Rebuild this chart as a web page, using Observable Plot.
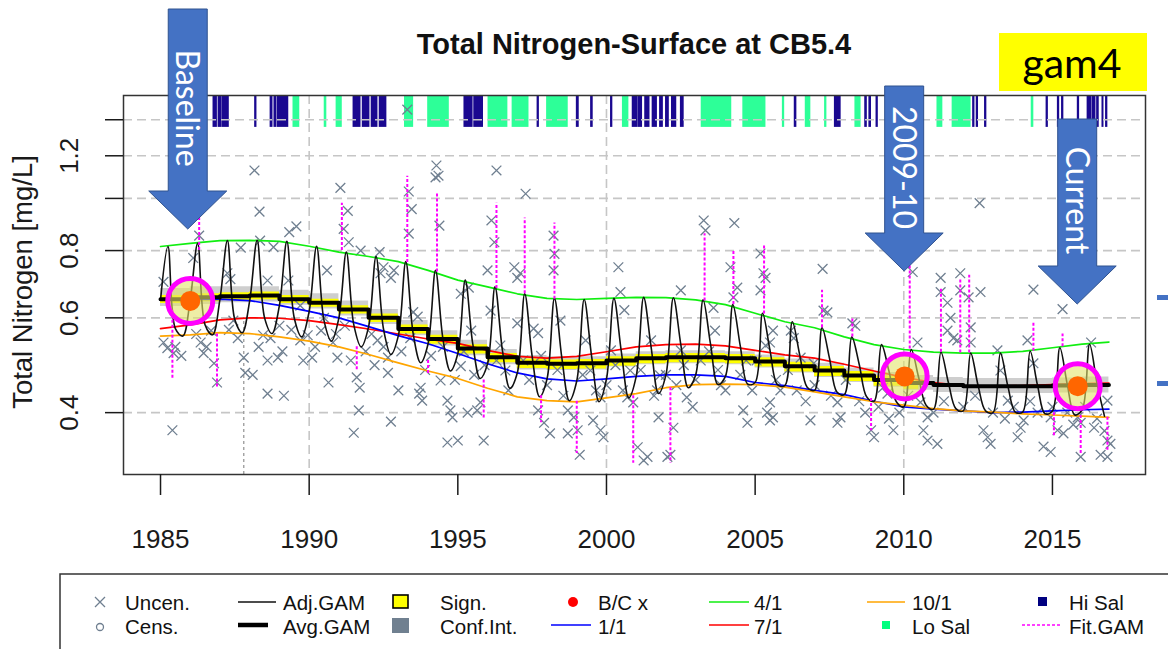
<!DOCTYPE html>
<html><head><meta charset="utf-8">
<script src="https://cdn.jsdelivr.net/npm/d3@7"></script>
<script src="https://cdn.jsdelivr.net/npm/@observablehq/plot@0.6"></script>
<style>
html,body{margin:0;padding:0;background:#fff;}
#chart{position:relative;width:1168px;height:649px;overflow:hidden;}
</style></head><body><div id="chart"></div>
<script>
// ---------------- DATA ----------------
const titleText = "Total Nitrogen-Surface at CB5.4";
const yTitle = "Total Nitrogen [mg/L]";
const xTicks = [1985, 1990, 1995, 2000, 2005, 2010, 2015];
const xGridTicks = [1990, 2000, 2010];
const yTicks = [0.4, 0.6, 0.8, 1.0, 1.2, 1.4];
const yLabelTicks = [0.4, 0.6, 0.8, 1.2];
const xDomain = [1983.755, 2018.13];
const yDomain = [0.307, 1.553];
const salStripLow = 1.355;
const baselineMarkT = 1987.8, baselineMarkTop = 0.60;

// seasonal model curves (value at each year)
const seasonT = [1985,1986,1987,1988,1989,1990,1991,1992,1993,1994,1995,1996,1997,1998,1999,2000,2001,2002,2003,2004,2005,2006,2007,2008,2009,2010,2011,2012,2013,2014,2015,2016,2016.9];
const green4 = [0.814,0.825,0.835,0.836,0.832,0.815,0.795,0.780,0.763,0.735,0.705,0.685,0.665,0.652,0.649,0.652,0.655,0.654,0.648,0.635,0.612,0.590,0.575,0.553,0.535,0.524,0.518,0.516,0.516,0.520,0.528,0.536,0.541];
const red7 = [0.573,0.582,0.595,0.600,0.599,0.593,0.583,0.572,0.560,0.548,0.538,0.522,0.509,0.505,0.509,0.519,0.530,0.535,0.536,0.532,0.522,0.512,0.505,0.492,0.478,0.465,0.455,0.449,0.448,0.449,0.451,0.453,0.454];
const blue1 = [0.647,0.649,0.650,0.646,0.633,0.617,0.600,0.578,0.556,0.537,0.515,0.493,0.474,0.462,0.458,0.462,0.467,0.470,0.470,0.467,0.455,0.449,0.440,0.432,0.420,0.410,0.406,0.403,0.400,0.401,0.403,0.405,0.406];
const orange10 = [0.555,0.558,0.563,0.561,0.553,0.543,0.530,0.513,0.495,0.478,0.463,0.444,0.428,0.421,0.419,0.426,0.434,0.445,0.451,0.452,0.451,0.446,0.437,0.428,0.419,0.413,0.407,0.403,0.401,0.398,0.396,0.394,0.392];
// annual average GAM and its bands
const avgGam = [0.650,0.655,0.658,0.660,0.650,0.640,0.622,0.600,0.572,0.548,0.526,0.507,0.495,0.493,0.494,0.500,0.505,0.507,0.507,0.505,0.498,0.488,0.479,0.469,0.460,0.454,0.450,0.448,0.448,0.448,0.449,0.450,0.450];
const ciHi = [0.680,0.685,0.685,0.685,0.675,0.665,0.645,0.622,0.593,0.568,0.545,0.524,0.511,0.508,0.508,0.514,0.519,0.521,0.521,0.519,0.512,0.503,0.494,0.484,0.475,0.469,0.465,0.463,0.463,0.463,0.464,0.466,0.466];
const ciLo = [0.630,0.635,0.640,0.642,0.633,0.623,0.605,0.583,0.556,0.532,0.510,0.491,0.480,0.479,0.480,0.486,0.491,0.493,0.493,0.491,0.484,0.474,0.465,0.455,0.446,0.440,0.436,0.434,0.434,0.434,0.435,0.435,0.435];
const sigT = [1985,1986,1987,1988,1989,1990,1991,1992,1993,1994,1995,1996,1997,1998,1999,2000,2001,2002,2003,2004,2005,2006,2007,2008,2009,2010,2010.5];
const sigHi = [0.660,0.665,0.668,0.670,0.660,0.650,0.632,0.610,0.582,0.557,0.535,0.515,0.503,0.501,0.502,0.508,0.513,0.515,0.515,0.513,0.506,0.496,0.487,0.477,0.468,0.462,0.462];
const sigLo = [0.638,0.643,0.646,0.648,0.638,0.628,0.610,0.588,0.560,0.536,0.514,0.495,0.483,0.481,0.482,0.488,0.493,0.495,0.495,0.493,0.486,0.476,0.467,0.457,0.448,0.442,0.442];

// uncensored observations
const obsT = [1985.10,1985.10,1985.23,1985.44,1985.40,1986.10,1986.30,1986.35,1986.45,1986.70,1986.80,1986.90,1987.25,1987.35,1987.45,1987.70,1987.80,1987.85,1988.10,1988.16,1988.33,1988.35,1988.45,1988.60,1988.60,1988.60,1988.80,1988.95,1989.00,1989.15,1989.30,1989.33,1989.57,1989.70,1989.70,1989.95,1990.10,1990.40,1990.60,1990.65,1990.80,1990.95,1991.05,1991.16,1991.30,1991.33,1991.50,1991.60,1991.67,1991.70,1991.73,1992.30,1992.37,1992.40,1992.50,1992.65,1992.65,1992.75,1992.50,1992.75,1992.85,1993.00,1993.30,1993.35,1993.45,1993.35,1993.50,1993.65,1993.70,1993.75,1993.80,1994.25,1994.28,1994.35,1994.38,1994.42,1994.65,1994.65,1994.75,1994.82,1995.00,1995.10,1995.10,1995.33,1995.37,1995.45,1995.65,1995.76,1995.87,1996.00,1996.10,1996.13,1996.23,1996.30,1996.43,1996.60,1996.90,1997.00,1997.00,1997.10,1997.28,1997.55,1997.70,1997.70,1997.80,1997.90,1998.10,1998.22,1998.25,1998.22,1998.45,1998.70,1998.70,1998.90,1999.03,1999.10,1999.30,1999.46,1999.55,1999.80,1999.80,1999.90,2000.15,2000.40,2000.47,2000.60,2000.70,2000.80,2000.90,2001.05,2001.25,2001.38,2001.50,2001.70,2001.75,2001.80,2002.05,2002.15,2002.25,2002.50,2002.50,2002.70,2002.90,2003.17,2003.27,2003.33,2003.60,2003.65,2003.85,2004.17,2004.27,2004.30,2004.40,2004.60,2004.70,2004.74,2005.18,2005.28,2005.18,2005.35,2005.40,2005.50,2005.35,2005.60,2005.50,2005.50,2005.60,2005.85,2006.20,2006.30,2006.53,2006.86,2006.97,2007.27,2007.30,2007.43,2007.77,2007.77,2007.87,2008.27,2008.37,2008.90,2009.00,2009.30,2009.45,2009.65,2010.30,2010.46,2010.56,2010.66,2010.80,2010.80,2011.13,2011.24,2011.24,2011.47,2011.47,2011.57,2011.67,2011.80,2011.90,2011.90,2012.18,2012.25,2012.25,2012.55,2012.58,2012.68,2012.82,2012.92,2013.15,2013.25,2013.50,2013.83,2013.93,2014.03,2014.16,2014.36,2014.36,2014.70,2014.94,2014.94,2015.17,2015.34,2015.37,2015.85,2015.95,2015.95,2016.30,2016.40,2016.62,2016.85,2016.85,2016.95,2016.85,
  1985.50,1985.70,1986.20,1986.55,1987.30,1987.60,1988.30,1988.70,1989.10,1989.40,1989.80,1990.20,1990.50,1990.90,1991.20,1991.40,1991.90,1992.10,1992.20,1993.10,1993.40,1993.90,1994.10,1994.50,1994.90,1995.20,1995.55,1995.90,1996.30,1996.70,1997.20,1997.40,1998.00,1998.35,1998.55,1999.20,1999.65,2000.00,2000.30,2000.55,2001.15,2001.60,2002.00,2002.35,2002.60,2003.00,2003.45,2003.75,2004.00,2004.50,2004.90,2005.05,2005.70,2006.10,2006.40,2006.70,2007.00,2007.55,2008.05,2008.50,2008.70,2009.15,2009.50,2009.85,2010.15,2011.00,2011.35,2012.00,2012.40,2013.00,2013.40,2013.70,2014.25,2014.50,2015.00,2015.50,2015.70,2016.10,2016.50,2016.75];
const obsV = [0.700,0.540,0.527,0.516,0.371,0.775,0.853,0.540,0.516,0.568,0.494,0.455,0.726,0.708,0.593,0.810,0.506,0.474,0.470,1.127,0.945,0.835,0.557,0.704,0.500,0.434,0.812,0.506,0.580,0.430,0.704,0.866,0.887,0.545,0.632,0.557,0.506,0.568,0.735,0.455,0.540,0.506,1.046,0.878,0.948,0.829,0.367,0.465,0.404,0.445,0.800,0.545,0.795,0.726,0.530,0.506,0.474,0.385,0.745,0.712,0.735,0.440,1.462,1.030,0.955,0.860,0.615,0.603,0.434,0.445,0.421,1.094,1.151,1.102,0.890,0.459,0.421,0.352,0.404,0.392,0.355,0.665,0.488,0.400,0.683,0.568,0.404,0.418,0.355,0.735,0.619,0.910,0.829,1.127,0.533,0.479,0.745,0.712,0.586,0.726,1.020,0.573,0.562,0.404,0.510,0.383,0.366,0.853,0.789,0.735,0.593,0.404,0.366,0.392,0.371,0.334,0.545,0.479,0.387,0.371,0.427,0.360,0.522,0.745,0.670,0.620,0.427,0.479,0.418,0.345,0.326,0.331,0.545,0.440,0.392,0.469,0.331,0.334,0.375,0.675,0.522,0.427,0.410,0.500,0.910,0.872,0.626,0.568,0.450,0.745,0.655,0.900,0.683,0.404,0.500,0.383,0.790,0.726,0.675,0.533,0.400,0.387,0.712,0.568,0.540,0.418,0.392,0.440,0.568,0.550,0.506,0.387,0.494,0.740,0.619,0.614,0.418,0.383,0.392,0.586,0.580,0.371,0.360,0.445,0.434,0.371,0.730,0.540,0.418,0.371,0.355,0.392,0.350,0.712,0.670,0.640,0.568,0.600,0.550,0.545,0.726,0.675,0.655,0.576,0.540,0.980,0.670,0.371,0.360,0.350,0.522,0.479,0.421,0.360,0.375,0.387,0.545,0.677,0.494,0.346,0.338,0.392,0.371,0.623,0.366,0.392,0.383,0.331,0.540,0.375,0.334,0.331,0.355,0.350,0.421,
  0.530,0.510,0.560,0.530,0.570,0.550,0.530,0.550,0.520,0.570,0.500,0.530,0.600,0.560,0.580,0.500,0.520,0.560,0.490,0.520,0.550,0.480,0.510,0.530,0.460,0.520,0.470,0.490,0.500,0.440,0.500,0.460,0.450,0.480,0.430,0.470,0.440,0.450,0.490,0.440,0.480,0.430,0.470,0.450,0.490,0.460,0.520,0.480,0.440,0.470,0.440,0.500,0.460,0.480,0.440,0.420,0.450,0.430,0.460,0.420,0.400,0.410,0.390,0.400,0.430,0.400,0.420,0.410,0.430,0.400,0.390,0.410,0.420,0.400,0.410,0.400,0.380,0.410,0.390,0.370];

// Fit.GAM spikes: time, from, to
const fitT  = [1986.30,1991.10,1993.30,1994.30,1996.30,1997.25,1998.25,2003.30,2004.27,2005.30,2007.25,2008.27,2010.20,2011.25,2011.90,2012.20,2014.36,2015.34,1985.40,1986.90,1991.60,1994.00,1995.87,1997.80,1999.00,2000.90,2002.15,2008.90,2015.05,2015.95,2016.85];
const fitFrom=[0.800,0.800,0.760,0.730,0.680,0.665,0.650,0.645,0.635,0.610,0.575,0.553,0.525,0.518,0.516,0.516,0.520,0.530,0.620,0.560,0.530,0.500,0.460,0.430,0.420,0.430,0.445,0.425,0.400,0.395,0.392];
const fitTo = [0.920,0.980,1.100,1.020,0.980,0.920,0.900,0.860,0.800,0.820,0.675,0.600,0.750,0.680,0.710,0.720,0.590,0.560,0.460,0.445,0.480,0.470,0.390,0.383,0.336,0.322,0.322,0.370,0.360,0.334,0.340];

// salinity classes (decimal-year intervals)
const hiSalFrom = [1986.78,1986.95,1987.08,1988.18,1988.70,1988.83,1988.94,1991.49,1991.80,1992.10,1992.37,1995.22,1995.55,1997.68,1999.00,1999.48,2000.15,2000.88,2001.08,2001.30,2001.55,2001.80,2002.00,2002.20,2002.50,2006.33,2007.68,2008.70,2008.84,2009.08,2012.33,2012.45,2012.73,2014.80,2015.18,2015.32,2015.85,2016.18,2016.34,2016.50,2016.68,2016.80];
const hiSalTo   = [1986.90,1987.05,1987.30,1988.23,1988.77,1988.90,1989.30,1991.73,1992.03,1992.30,1992.60,1995.50,1995.85,1997.73,1999.07,1999.54,2000.20,2001.05,2001.20,2001.45,2001.70,2001.90,2002.10,2002.35,2002.60,2006.39,2007.88,2008.76,2008.90,2009.13,2012.38,2012.50,2012.78,2014.85,2015.23,2015.37,2015.90,2016.30,2016.45,2016.56,2016.72,2016.85];
const loSalFrom = [1989.47,1990.52,1990.92,1993.22,1994.00,1996.03,1996.84,1998.00,2000.55,2003.20,2004.60,2005.93,2006.70,2007.35,2008.37,2011.13,2011.64,2014.30];
const loSalTo   = [1989.67,1990.58,1991.10,1993.50,1994.70,1996.67,1997.38,1998.70,2000.74,2004.20,2005.35,2005.98,2006.86,2007.40,2008.55,2011.30,2012.25,2014.36];

// highlighted baseline / 2009-10 / current values
const bcLabels = ["Baseline", "2009-10", "Current"];
const bcT = [1986.0, 2010.03, 2015.85];
const bcV = [0.645, 0.467, 0.448];
const modelTag = "gam4";

// ---------------- TABLES ----------------
const season = seasonT.map((t, i) => ({t, g: green4[i], r: red7[i], b: blue1[i], o: orange10[i], avg: avgGam[i], lo: ciLo[i], hi: ciHi[i]}));
const sig = sigT.map((t, i) => ({t, lo: sigLo[i], hi: sigHi[i]}));
const adj = [];
seasonT.forEach((t, i) => {
  if (i < seasonT.length - 1) {
    adj.push({t, v: blue1[i]}, {t: t + 0.25, v: green4[i]}, {t: t + 0.5, v: red7[i]}, {t: t + 0.75, v: orange10[i]});
  }
});
const obs = obsT.map((t, i) => ({t, v: obsV[i]}));
const fit = fitT.map((t, i) => ({t, a: fitFrom[i], b: fitTo[i]}));
const hiSal = hiSalFrom.map((a, i) => ({a, b: hiSalTo[i]}));
const loSal = loSalFrom.map((a, i) => ({a, b: loSalTo[i]}));
const bc = bcT.map((t, i) => ({t, v: bcV[i], label: bcLabels[i]}));

const FONT = "'Liberation Sans', Arial, Helvetica, sans-serif";
const grid = {stroke: "#c6c6c6", strokeOpacity: 1, strokeWidth: 1.6, strokeDasharray: "9,5"};

const chart = Plot.plot({
  width: 1168, height: 649,
  marginTop: 95, marginBottom: 175, marginLeft: 123, marginRight: 23,
  style: {background: "white", fontFamily: FONT, overflow: "visible"},
  x: {domain: xDomain, axis: null},
  y: {type: "log", domain: yDomain, axis: null},
  marks: [
    Plot.rect(loSal, {x1: "a", x2: "b", y1: salStripLow, y2: yDomain[1], fill: "#2dff98", insetLeft: -0.4, insetRight: -0.4}),
    Plot.rect(hiSal, {x1: "a", x2: "b", y1: salStripLow, y2: yDomain[1], fill: "#1a0890", insetLeft: -0.4, insetRight: -0.4}),
    Plot.gridY(yTicks, grid),
    Plot.gridX(xGridTicks, grid),
    Plot.ruleX([baselineMarkT], {y1: yDomain[0], y2: baselineMarkTop, stroke: "#9a9a9a", strokeWidth: 1.3, strokeDasharray: "3,3"}),
    Plot.areaY(season, {x: "t", y1: "lo", y2: "hi", curve: "step-after", fill: "#cbcbcb", fillOpacity: 0.95}),
    Plot.areaY(sig, {x: "t", y1: "lo", y2: "hi", curve: "step-after", fill: "#ffff00"}),
    Plot.dot(obs, {x: "t", y: "v", symbol: "times", r: 4.5, stroke: "#6f7f90", strokeWidth: 1.3}),
    Plot.line(season, {x: "t", y: "g", stroke: "#10ee10", strokeWidth: 1.7}),
    Plot.line(season, {x: "t", y: "r", stroke: "#ff0000", strokeWidth: 1.7}),
    Plot.line(season, {x: "t", y: "b", stroke: "#0000ff", strokeWidth: 1.7}),
    Plot.line(season, {x: "t", y: "o", stroke: "#ffa500", strokeWidth: 1.7}),
    Plot.line(adj, {x: "t", y: "v", curve: "catmull-rom", stroke: "#111", strokeWidth: 1.6}),
    Plot.line(season, {x: "t", y: "avg", curve: "step-after", stroke: "#000", strokeWidth: 4}),
    Plot.ruleX(fit, {x: "t", y1: "a", y2: "b", stroke: "#ff00ff", strokeWidth: 2, strokeDasharray: "3,2"}),
    Plot.frame({stroke: "#333", strokeWidth: 1.5}),
    Plot.axisX(xTicks, {tickSize: 21, tickPadding: 34, fontSize: 26, tickFormat: d => String(d), color: "#1a1a1a", strokeWidth: 1.5, label: null}),
    Plot.axisY(yTicks, {tickSize: 18, tickFormat: () => "", color: "#1a1a1a", strokeWidth: 1.5, label: null}),
    Plot.text(yLabelTicks, {y: d => d, text: d => d.toFixed(1), frameAnchor: "left", dx: -54, rotate: -90, fontSize: 26, lineAnchor: "middle", textAnchor: "middle", fill: "#1a1a1a"}),
    Plot.text([yTitle], {frameAnchor: "left", dx: -100, dy: -3, rotate: -90, fontSize: 27.5, lineAnchor: "middle", textAnchor: "middle", fill: "#1a1a1a"}),
    Plot.dot(bc, {x: "t", y: "v", r: 22.5, stroke: "#ff00ff", strokeWidth: 5, fill: "#e2e26a", fillOpacity: 0.6}),
    Plot.dot(bc, {x: "t", y: "v", r: 10, fill: "#ff6600"})
  ]
});
document.getElementById("chart").append(chart);

// ---------------- OVERLAYS ----------------
const svg = d3.select(chart);
const sx = chart.scale("x");

svg.append("text").attr("x", 634).attr("y", 54).attr("text-anchor", "middle")
  .attr("font-family", FONT).attr("font-weight", "bold").attr("font-size", 29).attr("fill", "#111").text(titleText);

// model tag
svg.append("rect").attr("x", 999).attr("y", 33).attr("width", 148).attr("height", 58).attr("fill", "#ffff00");
svg.append("text").attr("x", 1072).attr("y", 78).attr("text-anchor", "middle")
  .attr("font-family", "Lato, 'Open Sans', sans-serif").attr("font-size", 41).attr("fill", "#000").text(modelTag);

// cut-off marks on the right edge
[298, 384].forEach(y => svg.append("rect").attr("x", 1157).attr("y", y - 3).attr("width", 12).attr("height", 5).attr("fill", "#4472c4"));

// arrows
const arrowGeom = [{top: 9, tip: 229}, {top: 86, tip: 271}, {top: 119, tip: 304}];
bc.forEach((d, i) => {
  const cx = sx.apply(d.t) - (i === 0 ? 2 : 0);
  const {top, tip} = arrowGeom[i];
  const hb = tip - 38;
  const pts = [[cx - 19.5, top], [cx + 19.5, top], [cx + 19.5, hb], [cx + 39, hb], [cx, tip], [cx - 39, hb], [cx - 19.5, hb]];
  svg.append("polygon").attr("points", pts.map(p => p.join(",")).join(" "))
    .attr("fill", "#4472c4").attr("stroke", "#2f528f").attr("stroke-width", 1);
  const cy = (top + hb) / 2 + 8;
  svg.append("text").attr("transform", `translate(${cx - 11.5},${cy}) rotate(90)`)
    .attr("text-anchor", "middle").attr("font-family", "Lato, 'Open Sans', sans-serif")
    .attr("font-size", 32).attr("fill", "#fff").text(d.label);
});

// legend
const lg = svg.append("g").attr("font-family", FONT).attr("font-size", 20.5).attr("fill", "#111").attr("text-anchor", "start");
lg.append("rect").attr("x", 60).attr("y", 574).attr("width", 1160).attr("height", 120).attr("fill", "#fff").attr("stroke", "#333").attr("stroke-width", 1.5);
const r1 = 602, r2 = 625, t1 = 610, t2 = 634;
const txt = (x, y, s) => lg.append("text").attr("x", x).attr("y", y).attr("text-anchor", "start").text(s);
const seg = (x1, x2, y, c, w, dash) => { const l = lg.append("line").attr("x1", x1).attr("x2", x2).attr("y1", y).attr("y2", y).attr("stroke", c).attr("stroke-width", w); if (dash) l.attr("stroke-dasharray", dash); };
lg.append("path").attr("d", `M95,${r1-5}L105,${r1+5}M95,${r1+5}L105,${r1-5}`).attr("stroke", "#6f7f90").attr("stroke-width", 1.3);
lg.append("circle").attr("cx", 100).attr("cy", r2 + 2).attr("r", 3.5).attr("fill", "none").attr("stroke", "#6f7f90").attr("stroke-width", 1.3);
txt(125, t1, "Uncen."); txt(125, t2, "Cens.");
seg(238, 276, r1, "#111", 1.4); txt(283, t1, "Adj.GAM");
seg(238, 268, r2, "#000", 4.5); txt(283, t2, "Avg.GAM");
lg.append("rect").attr("x", 393).attr("y", r1 - 7).attr("width", 15).attr("height", 13).attr("fill", "#ffff00").attr("stroke", "#000").attr("stroke-width", 1.6);
lg.append("rect").attr("x", 392).attr("y", r2 - 7).attr("width", 17).attr("height", 15).attr("fill", "#708090");
txt(440, t1, "Sign."); txt(440, t2, "Conf.Int.");
lg.append("circle").attr("cx", 573).attr("cy", r1).attr("r", 5).attr("fill", "#ff0000");
txt(598, t1, "B/C x");
seg(551, 591, r2, "#0000ff", 1.7); txt(598, t2, "1/1");
seg(709, 749, r1, "#10ee10", 1.7); txt(754, t1, "4/1");
seg(709, 749, r2, "#ff0000", 1.7); txt(754, t2, "7/1");
seg(867, 905, r1, "#ffa500", 1.7); txt(912, t1, "10/1");
lg.append("rect").attr("x", 882).attr("y", r2 - 4).attr("width", 8).attr("height", 8).attr("fill", "#00ff7f");
txt(912, t2, "Lo Sal");
lg.append("rect").attr("x", 1038).attr("y", r1 - 5).attr("width", 9).attr("height", 9).attr("fill", "#000080");
txt(1069, t1, "Hi Sal");
seg(1022, 1060, r2, "#ff00ff", 1.5, "3,2"); txt(1069, t2, "Fit.GAM");
</script></body></html>
